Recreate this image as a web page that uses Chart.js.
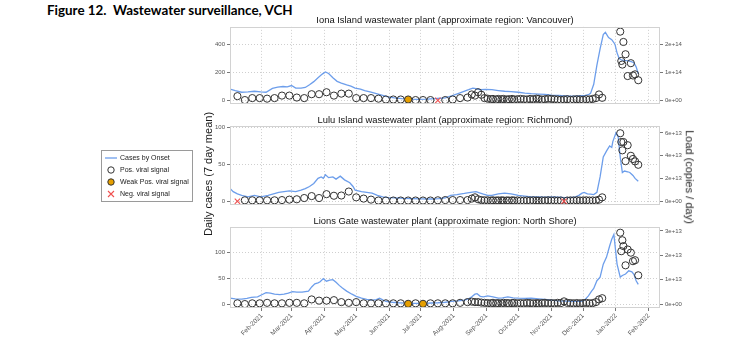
<!DOCTYPE html>
<html>
<head>
<meta charset="utf-8">
<script src="https://cdn.jsdelivr.net/npm/chart.js@4"></script>
<style>
  html, body { margin: 0; padding: 0; background: #fff; }
  #wrap { position: relative; width: 750px; height: 341px; overflow: hidden; font-family: 'Liberation Sans', Arial, sans-serif; }
  #wrap canvas { position: absolute; }
  #fig { position: absolute; left: 47px; top: 2px; font: bold 14px Lato, sans-serif; white-space: pre; color: #000; }
  #legend { position: absolute; left: 101px; top: 150px; width: 90px; height: 50px; border: 1px solid #9a9a9a; }
  .item { position: absolute; left: 0; height: 12px; font-size: 7px; color: #222; white-space: nowrap; }
  .item svg { position: absolute; left: 2px; top: 0; }
  .item span { position: absolute; left: 18px; top: 2px; }
  .ytitle { position: absolute; font-size: 11px; color: #1a1a1a; white-space: nowrap; transform-origin: center center; }
</style>
</head>
<body>
<div id="wrap">
  <div id="fig">Figure 12.  Wastewater surveillance, VCH</div>
  <canvas id="c1" width="520" height="109" style="left:190px;top:0px"></canvas>
  <canvas id="c2" width="520" height="110" style="left:190px;top:100px"></canvas>
  <canvas id="c3" width="520" height="141" style="left:190px;top:200px"></canvas>

  <div id="legend">
    <div class="item" style="top:1px">
      <svg width="14" height="12"><line x1="1" y1="6" x2="13" y2="6" stroke="#6d9eeb" stroke-width="1.3"/></svg>
      <span>Cases by Onset</span>
    </div>
    <div class="item" style="top:13px">
      <svg width="14" height="12"><circle cx="7" cy="6" r="3.2" fill="none" stroke="#333" stroke-width="1"/></svg>
      <span>Pos. viral signal</span>
    </div>
    <div class="item" style="top:25px">
      <svg width="14" height="12"><circle cx="7" cy="6" r="3.2" fill="#e69f00" stroke="#333" stroke-width="1"/></svg>
      <span>Weak Pos. viral signal</span>
    </div>
    <div class="item" style="top:37px">
      <svg width="14" height="12"><path d="M4 3 L10 9 M10 3 L4 9" stroke="#f0504f" stroke-width="1.1"/></svg>
      <span>Neg. viral signal</span>
    </div>
  </div>

  <div class="ytitle" id="yl">Daily cases (7 day mean)</div>
  <div class="ytitle" id="yr">Load (copies / day)</div>
</div>

<script>
// x values are days since 2021-01-01
const monthTicks = [31, 59, 90, 120, 151, 181, 212, 243, 273, 304, 334, 365, 396];
const monthLabels = ['Feb-2021', 'Mar-2021', 'Apr-2021', 'May-2021', 'Jun-2021', 'Jul-2021',
  'Aug-2021', 'Sep-2021', 'Oct-2021', 'Nov-2021', 'Dec-2021', 'Jan-2022', 'Feb-2022'];

// wastewater sample days (shared by the three plants)
const sampleDay = [8, 15, 22, 29, 36, 43, 50, 57, 64, 71, 78, 85, 92, 99, 106, 113, 120, 127, 134, 141,
  148, 155, 162, 169, 176, 183, 190, 197, 204, 211, 218, 225,
  229, 232, 235, 238, 241,
  244, 247, 249, 252, 254, 257, 259, 262, 264, 267, 269, 272, 275, 278, 281, 284, 287, 290, 292, 295,
  298, 301, 304, 307, 310, 313, 316, 319, 322, 325, 328, 331, 334, 337, 340, 343, 346, 349, 352,
  369, 370, 371, 372, 374, 376, 379, 381, 383, 386];

// Iona Island (Vancouver)
const ionaCaseDay = [1, 6, 12, 18, 24, 30, 35, 41, 46, 51, 55, 59, 63, 68, 72, 76, 80, 84, 88, 91, 94, 98,
  102, 106, 111, 115, 119, 124, 128, 134, 139, 145, 150, 156, 163, 170, 179, 187, 194, 199, 204, 210,
  216, 221, 226, 230, 233, 237, 242, 248, 254, 260, 266, 273, 279, 285, 292, 298, 304, 311, 317, 323,
  329, 336, 339, 341, 344, 347, 350, 353, 355, 358, 361, 364, 366, 368, 370, 373, 377, 380, 382, 384, 386];
const ionaCases = [81, 70, 58, 60, 65, 60, 58, 85, 95, 99, 97, 106, 88, 87, 92, 112, 134, 162, 188, 203, 192, 162,
  136, 124, 111, 102, 88, 80, 69, 58, 48, 36, 25, 17, 12, 9, 7, 8, 12, 15, 18, 32,
  48, 62, 76, 88, 84, 76, 78, 76, 70, 65, 62, 58, 52, 48, 45, 42, 38, 35, 32, 30,
  31, 35, 40, 50, 115, 252, 368, 471, 487, 450, 434, 402, 340, 299, 290, 286, 283, 276, 268, 240, 190];
const ionaLoad = [0.15, 0.01, 0.08, 0.08, 0.06, 0.08, 0.17, 0.17, 0.10, 0.08, 0.22, 0.22, 0.29, 0.17, 0.24, 0.24,
  0.08, 0.08, 0.08, 0.06, 0.03, 0.03, 0.03, 0.03, 0.01, 0.01, 0.01, 0, 0.01, 0.03, 0.08, 0.10,
  0.21, 0.17, 0.29, 0.20, 0.08,
  0.06, 0.04, 0.05, 0.03, 0.05, 0.04, 0.05, 0.03, 0.04, 0.05, 0.03, 0.04, 0.05, 0.04, 0.03, 0.05, 0.04, 0.06,
  0.05, 0.03, 0.04, 0.06, 0.05, 0.04, 0.03, 0.02, 0.03, 0.04, 0.02, 0.03, 0.04, 0.03, 0.02, 0.04, 0.03, 0.05,
  0.08, 0.21, 0.09,
  2.46, 1.41, 1.28, 2.09, 1.65, 0.87, 1.33, 0.89, 0.93, 0.72]; // x 1e14
const ionaWeak = [169];
const ionaNeg = [197];

// Lulu Island (Richmond)
const luluCaseDay = [1, 4, 8, 12, 18, 24, 30, 37, 42, 47, 52, 57, 63, 68, 72, 76, 80, 84, 87, 89, 91, 94, 98,
  101, 105, 109, 114, 117, 119, 125, 130, 135, 140, 145, 150, 157, 165, 172, 182, 191, 198, 204, 209,
  215, 222, 228, 233, 237, 240, 244, 248, 254, 260, 266, 273, 279, 285, 292, 298, 304, 311, 317, 323,
  327, 330, 333, 335, 338, 341, 344, 347, 350, 353, 356, 359, 361, 362, 365, 367, 369, 371, 373, 376,
  378, 381, 383, 386];
const luluCases = [17.5, 13, 10, 8, 6, 8, 6, 8, 10, 12, 13, 14, 13, 15, 17, 20, 24, 31, 33, 31, 36, 32, 33,
  30, 34, 29, 25, 20, 15, 13, 12, 11, 8, 6, 5, 4.4, 3.8, 3.5, 3.2, 3, 3.5, 4.4, 8,
  9, 10.5, 12, 13, 11, 9.6, 8, 8, 10, 11, 10, 8, 7, 6, 6, 5.5, 6, 5.5, 5, 5.3,
  6, 8, 11, 12, 10, 9.6, 9, 12, 33, 60, 68, 75, 73, 81, 93, 88, 60, 39, 41, 40,
  39, 35, 31, 27];
const luluLoad = [0, 0.08, 0.08, 0.08, 0.08, 0.08, 0.10, 0.14, 0.17, 0.28, 0.45, 0.28, 0.62, 0.48, 0.50, 0.85,
  0.34, 0.23, 0.14, 0.06, 0.06, 0.06, 0.06, 0.06, 0.06, 0.06, 0.06, 0.08, 0.10, 0.10, 0.10, 0.10,
  0.23, 0.34, 0.17, 0.10, 0.08,
  0.08, 0.06, 0.08, 0.06, 0.07, 0.08, 0.06, 0.07, 0.06, 0.08, 0.06, 0.07, 0.06, 0.05, 0.07, 0.06, 0.08, 0.06,
  0.05, 0.07, 0.06, 0.08, 0.06, 0.07, 0.05, 0.06, 0, 0.06, 0.07, 0.06, 0.08, 0.06, 0.07, 0.08, 0.06, 0.07,
  0.06, 0.14, 0.34,
  5.97, 5.2, 4.47, 5.2, 3.52, 4.92, 3.99, 3.71, 3.5, 3.2]; // x 1e13
const luluWeak = [];
const luluNeg = [8, 316];

// Lions Gate (North Shore)
const lionsCaseDay = [1, 6, 12, 17, 21, 27, 31, 35, 39, 43, 48, 52, 56, 60, 64, 69, 75, 78, 81, 84, 86, 89,
  92, 95, 98, 101, 104, 107, 111, 116, 120, 125, 130, 135, 139, 142, 145, 148, 154, 160, 166, 172, 180,
  185, 191, 197, 204, 210, 216, 222, 226, 229, 232, 234, 237, 240, 244, 249, 254, 258, 263, 268, 273,
  279, 285, 292, 298, 304, 310, 317, 323, 328, 332, 335, 339, 342, 344, 347, 350, 353, 356, 359, 361,
  363, 364, 366, 369, 371, 374, 377, 380, 382, 384, 386];
const lionsCases = [11.4, 10, 9.5, 11, 12.7, 14, 18, 22, 21, 19, 18, 19, 21, 24, 23, 23, 25, 33, 39, 41, 43, 49,
  44, 46, 47, 42, 36, 31, 25, 19, 15, 11.4, 9, 7.6, 8.5, 11.4, 8, 5, 3.5, 2.5, 1.8, 1.3, 1.2,
  1.3, 2, 2.5, 3.5, 5, 6, 7.6, 10, 14, 19, 20, 15, 14, 15.8, 14, 11.4, 12, 14, 12, 11.4,
  11, 11.4, 10, 8.9, 7.5, 6.3, 5.5, 5, 5, 5, 7, 15.8, 25, 30, 45, 52, 77, 90, 112, 125,
  134, 115, 77, 52, 55, 58, 64, 62, 57, 45, 38];
const lionsLoad = [0.03, 0, 0.03, 0.03, 0.05, 0.03, 0.03, 0.05, 0.05, 0.03, 0.19, 0.14, 0.14, 0.16, 0.08, 0.05,
  0.08, 0.03, 0.03, 0.03, 0.03, 0.03, 0.03, 0.01, 0.03, 0.01, 0.03, 0.03, 0.03, 0.03, 0.05, 0.08,
  0.10, 0.08, 0.08, 0.06, 0.05,
  0.04, 0.03, 0.05, 0.03, 0.04, 0.03, 0.05, 0.04, 0.03, 0.04, 0.05, 0.03, 0.04, 0.03, 0.05, 0.04, 0.03, 0.04,
  0.03, 0.04, 0.05, 0.03, 0.04, 0.03, 0.05, 0.04, 0.11, 0.05, 0.04, 0.03, 0.04, 0.03, 0.04, 0.05, 0.03, 0.04,
  0.08, 0.19, 0.24,
  2.93, 2.17, 2.62, 2.38, 1.59, 2.24, 2.11, 1.76, 1.8, 1.18]; // x 1e13
const lionsWeak = [169, 183];
const lionsNeg = [];

const FONT = "'Liberation Sans', Arial, sans-serif";
const GRID = '#cfcfcf';
const TICK = '#555';

// draw the light grey panel frame
const framePlugin = {
  id: 'frame',
  afterDatasetsDraw(chart) {
    const a = chart.chartArea, ctx = chart.ctx;
    ctx.save();
    ctx.strokeStyle = '#d2d2d2';
    ctx.lineWidth = 1;
    ctx.strokeRect(Math.round(a.left) + 0.5, Math.round(a.top) + 0.5,
      Math.round(a.right - a.left) - 1, Math.round(a.bottom - a.top) - 1);
    ctx.restore();
  }
};

function sci(v) {
  return v === 0 ? '0e+00' : v.toExponential(0);
}

function makePanel(p) {
  const pts = (filter) => sampleDay
    .map((d, i) => ({ x: d, y: p.load[i] * p.unit }))
    .filter(pt => filter(pt.x));
  const isWeak = d => p.weak.includes(d);
  const isNeg = d => p.neg.includes(d);

  new Chart(document.getElementById(p.id), {
    type: 'scatter',
    data: {
      datasets: [
        {
          label: 'Cases by Onset',
          data: p.caseDay.map((d, i) => ({ x: d, y: p.cases[i] })),
          showLine: true, yAxisID: 'yL', borderColor: '#6d9eeb', borderWidth: 1.3,
          pointRadius: 0, tension: 0, order: 4
        },
        {
          label: 'Pos. viral signal',
          data: pts(d => !isWeak(d) && !isNeg(d)),
          yAxisID: 'yR', pointStyle: 'circle', pointRadius: 3.6,
          borderColor: '#333', borderWidth: 1, backgroundColor: 'rgba(0,0,0,0)', order: 3
        },
        {
          label: 'Weak Pos. viral signal',
          data: pts(isWeak),
          yAxisID: 'yR', pointStyle: 'circle', pointRadius: 3.6,
          borderColor: '#333', borderWidth: 1, backgroundColor: '#e69f00', order: 2
        },
        {
          label: 'Neg. viral signal',
          data: pts(isNeg),
          yAxisID: 'yR', pointStyle: 'crossRot', pointRadius: 3.8,
          borderColor: '#f0504f', borderWidth: 1.1, order: 1
        }
      ]
    },
    options: {
      responsive: false,
      animation: false,
      events: [],
      layout: { padding: { top: 0, bottom: p.showX ? 0 : 2, left: 0, right: 0 } },
      plugins: {
        legend: { display: false },
        tooltip: { enabled: false },
        title: {
          display: true, text: p.title, fullSize: false, color: '#111',
          font: { family: FONT, size: 9.4, weight: 'normal' },
          padding: { top: p.titleTop, bottom: p.titleBottom }
        }
      },
      scales: {
        x: {
          type: 'linear', min: 1, max: 406.5,
          afterBuildTicks: s => { s.ticks = monthTicks.map(v => ({ value: v })); },
          afterFit: s => { s.height = p.showX ? 33 : 0; s.paddingLeft = 0; s.paddingRight = 0; },
          grid: { color: GRID, drawTicks: p.showX, tickLength: 3, tickColor: TICK, tickWidth: 0.8 },
          border: { display: false, dash: [1, 2] },
          ticks: {
            display: p.showX, autoSkip: false, minRotation: 45, maxRotation: 45, padding: 1,
            color: TICK, font: { family: FONT, size: 6.5 },
            callback: v => monthLabels[monthTicks.indexOf(v)]
          }
        },
        yL: {
          type: 'linear', position: 'left', min: p.leftMin, max: p.leftMax,
          afterBuildTicks: s => { s.ticks = p.leftTicks.map(v => ({ value: v })); },
          afterFit: s => { s.width = 40; s.paddingTop = 0; s.paddingBottom = 0; },
          grid: { color: GRID, tickLength: 3, tickColor: TICK, tickWidth: 0.8 },
          border: { display: false, dash: [1, 2] },
          ticks: { color: TICK, padding: 2, font: { family: FONT, size: 6 } }
        },
        yR: {
          type: 'linear', position: 'right', min: p.leftMin * p.k, max: p.leftMax * p.k,
          afterBuildTicks: s => { s.ticks = p.rightTicks.map(v => ({ value: v })); },
          afterFit: s => { s.width = 50; s.paddingTop = 0; s.paddingBottom = 0; },
          grid: { drawOnChartArea: false, tickLength: 3, tickColor: TICK, tickWidth: 0.8 },
          border: { display: false },
          ticks: { color: TICK, padding: 2, font: { family: FONT, size: 6 }, callback: sci }
        }
      }
    },
    plugins: [framePlugin]
  });
}

makePanel({
  id: 'c1', title: 'Iona Island wastewater plant (approximate region: Vancouver)',
  titleTop: 14.8, titleBottom: 0.8, showX: false,
  caseDay: ionaCaseDay, cases: ionaCases, load: ionaLoad, unit: 1e14,
  weak: ionaWeak, neg: ionaNeg,
  leftMin: -25.5, leftMax: 526, leftTicks: [0, 200, 400],
  k: 5e11, rightTicks: [0, 1e14, 2e14]
});
makePanel({
  id: 'c2', title: 'Lulu Island wastewater plant (approximate region: Richmond)',
  titleTop: 14.8, titleBottom: 0, showX: false,
  caseDay: luluCaseDay, cases: luluCases, load: luluLoad, unit: 1e13,
  weak: luluWeak, neg: luluNeg,
  leftMin: -5, leftMax: 102, leftTicks: [0, 50, 100],
  k: 6.47e11, rightTicks: [0, 2e13, 4e13, 6e13]
});
makePanel({
  id: 'c3', title: 'Lions Gate wastewater plant (approximate region: North Shore)',
  titleTop: 16, titleBottom: 0, showX: true,
  caseDay: lionsCaseDay, cases: lionsCases, load: lionsLoad, unit: 1e13,
  weak: lionsWeak, neg: lionsNeg,
  leftMin: -7.6, leftMax: 148, leftTicks: [0, 50, 100],
  k: 2.13e11, rightTicks: [0, 1e13, 2e13, 3e13]
});

// figure title: fit to the width it has in the source (about 246px)
const fig = document.getElementById('fig');
fig.style.fontSize = (14 * 246 / fig.offsetWidth).toFixed(2) + 'px';

// axis titles
const yl = document.getElementById('yl');
yl.style.left = (208 - yl.offsetWidth / 2) + 'px';
yl.style.top = (174 - yl.offsetHeight / 2) + 'px';
yl.style.transform = 'rotate(-90deg)';
const yr = document.getElementById('yr');
yr.style.left = (690 - yr.offsetWidth / 2) + 'px';
yr.style.top = (177 - yr.offsetHeight / 2) + 'px';
yr.style.transform = 'rotate(90deg)';
</script>
</body>
</html>
